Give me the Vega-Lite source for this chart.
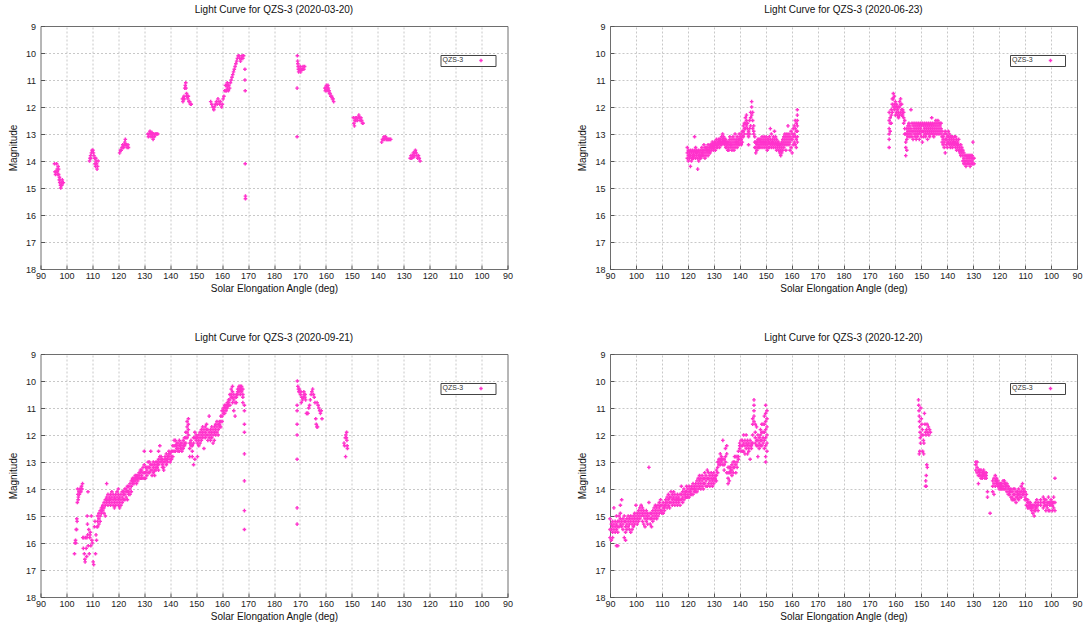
{
"$schema":"https://vega.github.io/schema/vega-lite/v6.json",
"background":"white",
"autosize":{"type":"none"},
"padding":{"left":40.5,"top":26,"right":1044.5,"bottom":601},
"bounds":"flush",
"columns":2,
"spacing":{"row":85,"column":102.5},
"config":{
 "font":"Liberation Sans",
 "view":{"stroke":"#6e6e6e","strokeWidth":1},
 "axis":{"grid":true,"gridColor":"#c8c8c8","gridDash":[2,2],"gridWidth":1,"domain":false,"ticks":true,"tickSize":-4,"tickColor":"#555","labelFlush":false,"labelFontSize":9,"labelColor":"#222","titleFontSize":10,"titleFontWeight":"normal","titleColor":"#111","labelFont":"Liberation Sans","titleFont":"Liberation Sans"},
 "axisX":{"labelPadding":6.5,"titlePadding":3,"gridOpacity":{"condition":{"test":"datum.value === 90 || datum.value === 270","value":0},"value":1}},
 "axisY":{"labelPadding":9,"titlePadding":7,"gridOpacity":{"condition":{"test":"datum.value === 9 || datum.value === 18","value":0},"value":1}},
 "title":{"fontSize":10,"fontWeight":"normal","font":"Liberation Sans","color":"#111","offset":7},
 "legend":{"orient":"none","legendX":400,"legendY":29,"titleOrient":"left","titleAnchor":"middle","titleFontSize":7,"titleFontWeight":"normal","titleColor":"#333","labelFontSize":7,"labelOffset":9,"symbolType":"cross","symbolSize":12,"symbolStrokeWidth":0,"strokeColor":"#444","fillColor":"white","padding":2,"titlePadding":14,"cornerRadius":0}
},
"datasets":{
"mar":[
{"x":95.4,"m":14.1},{"x":95.6,"m":14.4},{"x":95.8,"m":14.5},{"x":96.0,"m":14.4},{"x":96.2,"m":14.1},{"x":96.4,"m":14.3},{"x":96.5,"m":14.4},{"x":96.7,"m":14.5},{"x":96.8,"m":14.2},{"x":97.0,"m":14.3},{"x":97.0,"m":14.5},{"x":97.2,"m":14.7},{"x":97.4,"m":14.8},{"x":97.5,"m":14.7},{"x":97.7,"m":14.9},{"x":97.8,"m":15.0},{"x":98.0,"m":14.8},{"x":98.2,"m":14.9},{"x":98.4,"m":14.7},{"x":98.6,"m":14.8},{"x":98.8,"m":14.8},{"x":97.3,"m":14.6},
{"x":108.9,"m":14.0},{"x":109.1,"m":13.9},{"x":109.3,"m":13.8},{"x":109.6,"m":13.7},{"x":109.9,"m":13.6},{"x":110.2,"m":13.6},{"x":110.4,"m":13.7},{"x":110.6,"m":13.8},{"x":110.9,"m":13.9},{"x":111.0,"m":14.1},{"x":111.2,"m":14.2},{"x":111.4,"m":14.0},{"x":111.6,"m":14.1},{"x":111.8,"m":14.3},{"x":112.0,"m":14.2},{"x":112.2,"m":14.0},{"x":109.4,"m":13.9},{"x":111.3,"m":13.9},
{"x":120.5,"m":13.7},{"x":120.8,"m":13.6},{"x":121.1,"m":13.6},{"x":121.4,"m":13.5},{"x":121.7,"m":13.4},{"x":122.0,"m":13.5},{"x":122.3,"m":13.4},{"x":122.5,"m":13.3},{"x":122.7,"m":13.2},{"x":122.9,"m":13.4},{"x":123.1,"m":13.4},{"x":123.4,"m":13.5},{"x":123.7,"m":13.4},{"x":123.9,"m":13.5},{"x":121.9,"m":13.5},{"x":122.6,"m":13.4},
{"x":131.4,"m":13.0},{"x":131.6,"m":13.1},{"x":131.9,"m":13.0},{"x":132.2,"m":12.9},{"x":132.4,"m":13.0},{"x":132.6,"m":13.1},{"x":132.9,"m":13.0},{"x":133.2,"m":13.1},{"x":133.4,"m":13.2},{"x":133.6,"m":13.0},{"x":133.9,"m":13.1},{"x":134.2,"m":13.0},{"x":134.5,"m":13.0},{"x":134.8,"m":13.0},{"x":135.2,"m":13.0},{"x":133.0,"m":12.95},
{"x":144.7,"m":11.7},{"x":144.9,"m":11.8},{"x":145.1,"m":11.7},{"x":145.3,"m":11.6},{"x":145.6,"m":11.3},{"x":145.8,"m":11.2},{"x":146.0,"m":11.1},{"x":146.1,"m":11.3},{"x":146.3,"m":11.5},{"x":146.6,"m":11.6},{"x":146.8,"m":11.7},{"x":147.0,"m":11.6},{"x":147.2,"m":11.8},{"x":147.5,"m":11.8},{"x":147.8,"m":11.9},{"x":148.1,"m":11.9},{"x":146.4,"m":11.6},{"x":145.5,"m":11.7},
{"x":155.6,"m":11.8},{"x":156.0,"m":11.9},{"x":156.4,"m":12.0},{"x":156.8,"m":12.1},{"x":157.1,"m":12.0},{"x":157.4,"m":11.9},{"x":157.8,"m":11.8},{"x":158.1,"m":11.9},{"x":158.4,"m":11.7},{"x":158.8,"m":11.8},{"x":159.1,"m":11.9},{"x":159.4,"m":11.8},{"x":159.8,"m":12.0},{"x":160.1,"m":11.9},{"x":160.4,"m":11.7},{"x":160.7,"m":11.6},
{"x":161.0,"m":11.4},{"x":161.3,"m":11.2},{"x":161.5,"m":11.4},{"x":161.8,"m":11.2},{"x":162.0,"m":11.3},{"x":162.3,"m":11.2},{"x":162.6,"m":11.2},{"x":162.9,"m":11.3},{"x":163.2,"m":11.1},{"x":163.5,"m":11.0},{"x":163.8,"m":10.9},{"x":164.1,"m":10.8},{"x":164.4,"m":10.7},{"x":164.7,"m":10.6},{"x":165.0,"m":10.5},{"x":165.3,"m":10.4},{"x":165.6,"m":10.3},{"x":165.9,"m":10.2},{"x":166.2,"m":10.1},{"x":166.5,"m":10.1},{"x":166.8,"m":10.2},{"x":167.1,"m":10.3},{"x":167.4,"m":10.2},{"x":167.7,"m":10.1},{"x":168.0,"m":10.2},{"x":168.3,"m":10.1},{"x":161.6,"m":11.4},{"x":162.4,"m":11.4},{"x":162.0,"m":11.1},
{"x":168.8,"m":10.6},{"x":168.8,"m":11.0},{"x":168.9,"m":11.4},{"x":168.9,"m":14.1},{"x":169.0,"m":15.3},{"x":169.0,"m":15.4},
{"x":189.0,"m":10.1},{"x":189.1,"m":10.3},{"x":189.2,"m":10.4},{"x":189.3,"m":10.5},{"x":189.4,"m":10.6},{"x":189.5,"m":10.7},{"x":189.9,"m":10.6},{"x":190.3,"m":10.7},{"x":190.6,"m":10.6},{"x":190.9,"m":10.6},{"x":191.2,"m":10.5},{"x":191.5,"m":10.6},{"x":191.8,"m":10.5},{"x":190.1,"m":10.5},{"x":188.9,"m":11.3},{"x":188.9,"m":13.1},
{"x":199.6,"m":11.3},{"x":199.8,"m":11.4},{"x":200.0,"m":11.3},{"x":200.2,"m":11.2},{"x":200.4,"m":11.4},{"x":200.6,"m":11.3},{"x":200.8,"m":11.2},{"x":201.0,"m":11.3},{"x":201.2,"m":11.4},{"x":201.4,"m":11.5},{"x":201.6,"m":11.5},{"x":201.9,"m":11.6},{"x":202.2,"m":11.6},{"x":202.5,"m":11.7},{"x":202.8,"m":11.7},{"x":203.0,"m":11.8},{"x":200.3,"m":11.3},{"x":201.1,"m":11.4},
{"x":210.6,"m":12.4},{"x":210.8,"m":12.6},{"x":211.0,"m":12.7},{"x":211.2,"m":12.5},{"x":211.5,"m":12.5},{"x":211.8,"m":12.4},{"x":212.1,"m":12.5},{"x":212.4,"m":12.4},{"x":212.7,"m":12.3},{"x":212.9,"m":12.4},{"x":213.2,"m":12.5},{"x":213.5,"m":12.4},{"x":213.8,"m":12.5},{"x":214.1,"m":12.6},{"x":214.3,"m":12.6},{"x":211.3,"m":12.4},
{"x":221.5,"m":13.3},{"x":221.8,"m":13.2},{"x":222.1,"m":13.2},{"x":222.4,"m":13.1},{"x":222.7,"m":13.2},{"x":223.0,"m":13.1},{"x":223.3,"m":13.2},{"x":223.6,"m":13.2},{"x":223.9,"m":13.2},{"x":224.2,"m":13.2},{"x":224.6,"m":13.2},{"x":225.0,"m":13.2},{"x":222.9,"m":13.15},
{"x":232.5,"m":13.9},{"x":232.8,"m":13.8},{"x":233.1,"m":13.9},{"x":233.4,"m":13.8},{"x":233.7,"m":13.7},{"x":234.0,"m":13.8},{"x":234.3,"m":13.7},{"x":234.5,"m":13.6},{"x":234.8,"m":13.7},{"x":235.1,"m":13.8},{"x":235.4,"m":13.9},{"x":235.7,"m":13.8},{"x":236.0,"m":13.9},{"x":236.3,"m":14.0},{"x":233.9,"m":13.85}
],
"jun":[
{"x":119.8,"m":13.5},{"x":119.8,"m":13.7},{"x":119.8,"m":13.9},{"x":120.2,"m":13.6},{"x":120.2,"m":13.8},{"x":120.2,"m":14.0},{"x":120.6,"m":13.7},{"x":120.6,"m":13.9},{"x":120.6,"m":13.8},{"x":121.0,"m":13.8},{"x":121.0,"m":14.2},{"x":121.0,"m":13.6},{"x":121.4,"m":13.7},{"x":121.4,"m":14.0},{"x":121.4,"m":13.9},{"x":121.8,"m":13.8},{"x":121.8,"m":13.6},{"x":121.8,"m":13.9},{"x":122.2,"m":13.7},{"x":122.2,"m":13.9},{"x":122.2,"m":13.8},{"x":122.6,"m":13.6},{"x":122.6,"m":13.8},{"x":122.6,"m":13.1},{"x":123.0,"m":13.5},{"x":123.0,"m":13.7},{"x":123.0,"m":13.9},{"x":123.4,"m":13.6},{"x":123.4,"m":13.8},{"x":123.4,"m":13.7},{"x":123.8,"m":13.7},{"x":123.8,"m":13.9},{"x":123.8,"m":14.3},{"x":124.2,"m":13.8},{"x":124.2,"m":14.0},{"x":124.2,"m":13.6},{"x":124.6,"m":13.7},{"x":124.6,"m":13.9},{"x":124.6,"m":13.8},{"x":125.0,"m":13.8},{"x":125.0,"m":13.6},{"x":125.0,"m":13.9},{"x":125.4,"m":13.7},{"x":125.4,"m":13.8},{"x":125.4,"m":13.5},{"x":125.8,"m":13.6},{"x":125.8,"m":13.8},{"x":125.8,"m":13.7},{"x":126.2,"m":13.4},{"x":126.2,"m":13.6},{"x":126.2,"m":13.8},{"x":126.6,"m":13.5},{"x":126.6,"m":13.7},{"x":126.6,"m":13.9},{"x":127.0,"m":13.6},{"x":127.0,"m":13.8},{"x":127.0,"m":13.5},{"x":127.4,"m":13.5},{"x":127.4,"m":13.7},{"x":127.4,"m":13.6},{"x":127.8,"m":13.4},{"x":127.8,"m":13.6},{"x":127.8,"m":13.8},{"x":128.2,"m":13.5},{"x":128.2,"m":13.7},{"x":128.2,"m":13.6},{"x":128.6,"m":13.4},{"x":128.6,"m":13.5},{"x":128.6,"m":13.7},{"x":129.0,"m":13.4},{"x":129.0,"m":13.6},{"x":129.0,"m":13.5},{"x":129.4,"m":13.3},{"x":129.4,"m":13.5},{"x":129.4,"m":13.4},{"x":129.8,"m":13.4},{"x":129.8,"m":13.6},{"x":129.8,"m":13.5},{"x":130.2,"m":13.3},{"x":130.2,"m":13.5},{"x":130.2,"m":13.4},{"x":130.6,"m":13.3},{"x":130.6,"m":13.4},{"x":130.6,"m":13.6},{"x":131.0,"m":13.4},{"x":131.0,"m":13.2},{"x":131.0,"m":13.5},{"x":131.4,"m":13.3},{"x":131.4,"m":13.4},{"x":131.4,"m":13.5},{"x":131.8,"m":13.2},{"x":131.8,"m":13.4},{"x":131.8,"m":13.3},{"x":132.2,"m":13.3},{"x":132.2,"m":13.5},{"x":132.2,"m":13.2},{"x":132.6,"m":13.2},{"x":132.6,"m":13.4},{"x":132.6,"m":13.3},{"x":133.0,"m":13.1},{"x":133.0,"m":13.3},{"x":133.0,"m":13.4},{"x":133.4,"m":13.2},{"x":133.4,"m":13.0},{"x":133.4,"m":13.3},{"x":133.8,"m":13.1},{"x":133.8,"m":13.3},{"x":133.8,"m":13.2},{"x":134.2,"m":13.2},{"x":134.2,"m":13.4},{"x":134.2,"m":13.3},{"x":134.6,"m":13.3},{"x":134.6,"m":13.5},{"x":134.6,"m":13.2},{"x":135.0,"m":13.3},{"x":135.0,"m":13.5},{"x":135.0,"m":13.4},{"x":135.4,"m":13.4},{"x":135.4,"m":13.6},{"x":135.4,"m":13.3},{"x":135.8,"m":13.3},{"x":135.8,"m":13.5},{"x":135.8,"m":13.6},{"x":136.2,"m":13.2},{"x":136.2,"m":13.4},{"x":136.2,"m":13.1},{"x":136.6,"m":13.3},{"x":136.6,"m":13.5},{"x":136.6,"m":13.4},{"x":137.0,"m":13.4},{"x":137.0,"m":13.6},{"x":137.0,"m":13.2},{"x":137.4,"m":13.3},{"x":137.4,"m":13.5},{"x":137.4,"m":13.1},{"x":137.8,"m":13.2},{"x":137.8,"m":13.4},{"x":137.8,"m":13.6},{"x":138.2,"m":13.3},{"x":138.2,"m":13.5},{"x":138.2,"m":13.0},{"x":138.6,"m":13.2},{"x":138.6,"m":13.4},{"x":138.6,"m":13.3},{"x":139.0,"m":13.1},{"x":139.0,"m":13.3},{"x":139.0,"m":13.5},{"x":139.4,"m":13.2},{"x":139.4,"m":13.4},{"x":139.4,"m":13.3},{"x":139.8,"m":13.0},{"x":139.8,"m":13.2},{"x":139.8,"m":13.4},{"x":140.2,"m":13.1},{"x":140.2,"m":13.3},{"x":140.2,"m":13.2},{"x":140.6,"m":13.2},{"x":140.6,"m":13.4},{"x":140.6,"m":13.0},{"x":141.0,"m":13.1},{"x":141.0,"m":13.3},{"x":141.0,"m":12.9},{"x":141.4,"m":12.9},{"x":141.4,"m":13.1},{"x":141.4,"m":12.7},{"x":141.8,"m":12.6},{"x":141.8,"m":12.8},{"x":141.8,"m":13.0},{"x":142.2,"m":12.4},{"x":142.2,"m":12.6},{"x":142.2,"m":12.8},{"x":142.6,"m":12.3},{"x":142.6,"m":12.5},{"x":142.6,"m":12.7},{"x":143.0,"m":12.6},{"x":143.0,"m":12.8},{"x":143.0,"m":13.0},{"x":143.4,"m":12.9},{"x":143.4,"m":13.1},{"x":143.4,"m":13.4},{"x":143.8,"m":12.5},{"x":143.8,"m":12.8},{"x":143.8,"m":13.0},{"x":144.2,"m":12.2},{"x":144.2,"m":12.4},{"x":144.2,"m":12.7},{"x":144.6,"m":11.8},{"x":144.6,"m":12.0},{"x":144.6,"m":12.3},{"x":145.0,"m":12.2},{"x":145.0,"m":12.5},{"x":145.0,"m":12.8},{"x":145.4,"m":12.7},{"x":145.4,"m":13.0},{"x":145.4,"m":12.9},{"x":145.8,"m":13.1},{"x":145.8,"m":13.3},{"x":145.8,"m":13.5},{"x":146.2,"m":13.3},{"x":146.2,"m":13.5},{"x":146.2,"m":13.7},{"x":146.6,"m":13.4},{"x":146.6,"m":13.6},{"x":146.6,"m":13.3},{"x":147.0,"m":13.3},{"x":147.0,"m":13.5},{"x":147.0,"m":13.2},{"x":147.4,"m":13.2},{"x":147.4,"m":13.4},{"x":147.4,"m":13.5},{"x":147.8,"m":13.3},{"x":147.8,"m":13.5},{"x":147.8,"m":13.2},{"x":148.2,"m":13.2},{"x":148.2,"m":13.4},{"x":148.2,"m":13.3},{"x":148.6,"m":13.3},{"x":148.6,"m":13.5},{"x":148.6,"m":13.1},{"x":149.0,"m":13.2},{"x":149.0,"m":13.4},{"x":149.0,"m":13.3},{"x":149.4,"m":13.1},{"x":149.4,"m":13.3},{"x":149.4,"m":13.5},{"x":149.8,"m":13.2},{"x":149.8,"m":13.4},{"x":149.8,"m":13.3},{"x":150.2,"m":13.3},{"x":150.2,"m":13.5},{"x":150.2,"m":13.1},{"x":150.6,"m":13.2},{"x":150.6,"m":13.4},{"x":150.6,"m":13.6},{"x":151.0,"m":13.3},{"x":151.0,"m":13.5},{"x":151.0,"m":13.2},{"x":151.4,"m":13.1},{"x":151.4,"m":13.3},{"x":151.4,"m":13.5},{"x":151.8,"m":12.8},{"x":151.8,"m":13.2},{"x":151.8,"m":13.4},{"x":152.2,"m":13.0},{"x":152.2,"m":13.3},{"x":152.2,"m":13.5},{"x":152.6,"m":13.2},{"x":152.6,"m":13.4},{"x":152.6,"m":13.3},{"x":153.0,"m":13.1},{"x":153.0,"m":13.3},{"x":153.0,"m":13.5},{"x":153.4,"m":12.9},{"x":153.4,"m":13.2},{"x":153.4,"m":13.4},{"x":153.8,"m":13.1},{"x":153.8,"m":13.3},{"x":153.8,"m":13.5},{"x":154.2,"m":13.2},{"x":154.2,"m":13.4},{"x":154.2,"m":13.6},{"x":154.6,"m":13.3},{"x":154.6,"m":13.5},{"x":154.6,"m":13.4},{"x":155.0,"m":13.4},{"x":155.0,"m":13.6},{"x":155.0,"m":13.3},{"x":155.4,"m":13.5},{"x":155.4,"m":13.7},{"x":155.4,"m":13.4},{"x":155.8,"m":13.4},{"x":155.8,"m":13.6},{"x":155.8,"m":13.8},{"x":156.2,"m":13.3},{"x":156.2,"m":13.5},{"x":156.2,"m":13.7},{"x":156.6,"m":13.2},{"x":156.6,"m":13.4},{"x":156.6,"m":13.6},{"x":157.0,"m":13.1},{"x":157.0,"m":13.3},{"x":157.0,"m":13.5},{"x":157.4,"m":13.0},{"x":157.4,"m":13.2},{"x":157.4,"m":13.4},{"x":157.8,"m":13.1},{"x":157.8,"m":13.3},{"x":157.8,"m":13.6},{"x":158.2,"m":13.2},{"x":158.2,"m":13.4},{"x":158.2,"m":13.0},{"x":158.6,"m":13.1},{"x":158.6,"m":13.3},{"x":158.6,"m":12.7},{"x":159.0,"m":13.0},{"x":159.0,"m":13.2},{"x":159.0,"m":13.4},{"x":159.4,"m":13.1},{"x":159.4,"m":13.3},{"x":159.4,"m":13.6},{"x":159.8,"m":12.9},{"x":159.8,"m":13.2},{"x":159.8,"m":13.5},{"x":160.2,"m":13.0},{"x":160.2,"m":13.2},{"x":160.2,"m":13.7},{"x":160.6,"m":12.8},{"x":160.6,"m":13.1},{"x":160.6,"m":13.4},{"x":161.0,"m":12.7},{"x":161.0,"m":13.0},{"x":161.0,"m":13.3},{"x":161.4,"m":12.5},{"x":161.4,"m":12.8},{"x":161.4,"m":13.1},{"x":161.4,"m":13.4},{"x":161.8,"m":12.6},{"x":161.8,"m":12.9},{"x":161.8,"m":13.2},{"x":161.8,"m":13.5},{"x":162.2,"m":12.1},{"x":162.2,"m":12.3},{"x":162.2,"m":12.5},{"x":162.2,"m":12.7},{"x":162.2,"m":12.9},{"x":162.2,"m":13.1},{"x":162.2,"m":13.3},
{"x":197.6,"m":12.2},{"x":197.6,"m":12.5},{"x":197.6,"m":12.8},{"x":197.6,"m":13.0},{"x":197.6,"m":13.2},{"x":197.6,"m":13.5},{"x":198.0,"m":12.4},{"x":198.0,"m":12.6},{"x":198.0,"m":12.9},{"x":198.4,"m":12.1},{"x":198.4,"m":12.3},{"x":198.4,"m":12.6},{"x":198.8,"m":11.7},{"x":198.8,"m":11.9},{"x":198.8,"m":12.2},{"x":199.2,"m":11.5},{"x":199.2,"m":11.7},{"x":199.2,"m":12.0},{"x":199.6,"m":11.6},{"x":199.6,"m":11.9},{"x":199.6,"m":12.1},{"x":200.0,"m":11.8},{"x":200.0,"m":12.0},{"x":200.0,"m":12.3},{"x":200.4,"m":12.0},{"x":200.4,"m":12.2},{"x":200.4,"m":11.9},{"x":200.8,"m":12.1},{"x":200.8,"m":12.3},{"x":200.8,"m":12.0},{"x":201.2,"m":12.0},{"x":201.2,"m":12.2},{"x":201.2,"m":12.4},{"x":201.6,"m":11.8},{"x":201.6,"m":12.0},{"x":201.6,"m":12.3},{"x":202.0,"m":11.7},{"x":202.0,"m":11.9},{"x":202.0,"m":12.2},{"x":202.4,"m":11.9},{"x":202.4,"m":12.1},{"x":202.4,"m":12.3},{"x":202.8,"m":12.1},{"x":202.8,"m":12.3},{"x":202.8,"m":12.2},{"x":203.2,"m":12.2},{"x":203.2,"m":12.4},{"x":203.2,"m":12.6},{"x":203.6,"m":12.5},{"x":203.6,"m":12.8},{"x":203.6,"m":13.0},{"x":204.0,"m":13.0},{"x":204.0,"m":13.3},{"x":204.0,"m":13.5},{"x":204.0,"m":13.8},{"x":204.4,"m":12.8},{"x":204.4,"m":13.0},{"x":204.4,"m":13.2},{"x":204.4,"m":13.6},{"x":204.8,"m":12.7},{"x":204.8,"m":12.9},{"x":204.8,"m":13.1},{"x":205.2,"m":12.6},{"x":205.2,"m":12.8},{"x":205.2,"m":13.0},{"x":205.6,"m":12.7},{"x":205.6,"m":12.9},{"x":205.6,"m":13.1},{"x":206.0,"m":12.1},{"x":206.0,"m":12.8},{"x":206.0,"m":13.0},{"x":206.4,"m":12.6},{"x":206.4,"m":12.9},{"x":206.4,"m":13.1},{"x":206.8,"m":12.7},{"x":206.8,"m":12.9},{"x":206.8,"m":13.2},{"x":207.2,"m":12.6},{"x":207.2,"m":12.8},{"x":207.2,"m":13.0},{"x":207.6,"m":12.7},{"x":207.6,"m":12.9},{"x":207.6,"m":13.1},{"x":208.0,"m":12.6},{"x":208.0,"m":12.8},{"x":208.0,"m":13.0},{"x":208.0,"m":13.2},{"x":208.4,"m":12.7},{"x":208.4,"m":12.9},{"x":208.4,"m":13.1},{"x":208.8,"m":12.6},{"x":208.8,"m":12.8},{"x":208.8,"m":13.0},{"x":209.2,"m":12.7},{"x":209.2,"m":12.9},{"x":209.2,"m":13.2},{"x":209.6,"m":12.6},{"x":209.6,"m":12.8},{"x":209.6,"m":13.0},{"x":210.0,"m":12.7},{"x":210.0,"m":12.9},{"x":210.0,"m":13.1},{"x":210.4,"m":12.6},{"x":210.4,"m":12.9},{"x":210.4,"m":13.3},{"x":210.8,"m":12.7},{"x":210.8,"m":12.9},{"x":210.8,"m":13.1},{"x":211.2,"m":12.6},{"x":211.2,"m":12.8},{"x":211.2,"m":13.0},{"x":211.6,"m":12.7},{"x":211.6,"m":12.9},{"x":211.6,"m":13.1},{"x":212.0,"m":12.6},{"x":212.0,"m":12.8},{"x":212.0,"m":13.0},{"x":212.4,"m":12.7},{"x":212.4,"m":12.9},{"x":212.4,"m":13.2},{"x":212.8,"m":12.6},{"x":212.8,"m":12.8},{"x":212.8,"m":13.0},{"x":213.2,"m":12.7},{"x":213.2,"m":12.9},{"x":213.2,"m":13.1},{"x":213.6,"m":12.6},{"x":213.6,"m":12.8},{"x":213.6,"m":13.0},{"x":214.0,"m":12.4},{"x":214.0,"m":12.7},{"x":214.0,"m":12.9},{"x":214.4,"m":12.6},{"x":214.4,"m":12.8},{"x":214.4,"m":13.0},{"x":214.8,"m":12.7},{"x":214.8,"m":12.9},{"x":214.8,"m":13.1},{"x":215.2,"m":12.6},{"x":215.2,"m":12.8},{"x":215.2,"m":13.0},{"x":215.6,"m":12.5},{"x":215.6,"m":12.7},{"x":215.6,"m":12.9},{"x":216.0,"m":12.6},{"x":216.0,"m":12.8},{"x":216.0,"m":13.0},{"x":216.4,"m":12.5},{"x":216.4,"m":12.7},{"x":216.4,"m":12.9},{"x":216.8,"m":12.6},{"x":216.8,"m":12.8},{"x":216.8,"m":13.0},{"x":217.2,"m":12.7},{"x":217.2,"m":12.9},{"x":217.2,"m":12.6},{"x":217.6,"m":12.8},{"x":217.6,"m":13.0},{"x":217.6,"m":12.6},{"x":218.0,"m":12.9},{"x":218.0,"m":13.1},{"x":218.0,"m":13.3},{"x":218.4,"m":13.1},{"x":218.4,"m":13.2},{"x":218.4,"m":13.4},{"x":218.8,"m":13.0},{"x":218.8,"m":13.3},{"x":218.8,"m":13.5},{"x":219.2,"m":12.9},{"x":219.2,"m":13.2},{"x":219.2,"m":13.7},{"x":219.6,"m":13.0},{"x":219.6,"m":13.2},{"x":219.6,"m":13.4},{"x":220.0,"m":13.1},{"x":220.0,"m":13.3},{"x":220.0,"m":13.5},{"x":220.4,"m":12.9},{"x":220.4,"m":13.1},{"x":220.4,"m":13.3},{"x":220.8,"m":13.0},{"x":220.8,"m":13.2},{"x":220.8,"m":13.4},{"x":221.2,"m":13.1},{"x":221.2,"m":13.3},{"x":221.2,"m":13.5},{"x":221.6,"m":13.2},{"x":221.6,"m":13.4},{"x":221.6,"m":13.1},{"x":222.0,"m":13.1},{"x":222.0,"m":13.3},{"x":222.0,"m":13.5},{"x":222.4,"m":13.2},{"x":222.4,"m":13.4},{"x":222.4,"m":13.3},{"x":222.8,"m":13.1},{"x":222.8,"m":13.3},{"x":222.8,"m":13.4},{"x":223.2,"m":13.3},{"x":223.2,"m":13.5},{"x":223.2,"m":13.1},{"x":223.6,"m":13.2},{"x":223.6,"m":13.4},{"x":223.6,"m":13.6},{"x":224.0,"m":13.3},{"x":224.0,"m":13.5},{"x":224.0,"m":13.4},{"x":224.4,"m":13.4},{"x":224.4,"m":13.6},{"x":224.4,"m":13.2},{"x":224.8,"m":13.5},{"x":224.8,"m":13.7},{"x":224.8,"m":13.6},{"x":225.2,"m":13.4},{"x":225.2,"m":13.6},{"x":225.2,"m":13.8},{"x":225.6,"m":13.5},{"x":225.6,"m":13.7},{"x":225.6,"m":13.6},{"x":226.0,"m":13.6},{"x":226.0,"m":13.8},{"x":226.0,"m":14.0},{"x":226.4,"m":13.7},{"x":226.4,"m":13.9},{"x":226.4,"m":14.1},{"x":226.8,"m":13.8},{"x":226.8,"m":14.0},{"x":226.8,"m":14.1},{"x":227.2,"m":13.8},{"x":227.2,"m":14.0},{"x":227.2,"m":14.2},{"x":227.6,"m":13.9},{"x":227.6,"m":14.1},{"x":227.6,"m":13.8},{"x":228.0,"m":13.8},{"x":228.0,"m":14.0},{"x":228.0,"m":14.1},{"x":228.4,"m":13.9},{"x":228.4,"m":14.1},{"x":228.4,"m":13.8},{"x":228.8,"m":13.8},{"x":228.8,"m":14.0},{"x":228.8,"m":14.2},{"x":229.2,"m":13.9},{"x":229.2,"m":14.1},{"x":229.2,"m":13.8},{"x":229.6,"m":13.8},{"x":229.6,"m":14.0},{"x":229.6,"m":14.1},{"x":229.9,"m":13.3},{"x":229.9,"m":13.9},{"x":229.9,"m":14.1},{"x":230.3,"m":13.9},{"x":230.3,"m":14.1}
],
"sep":[
{"x":103.1,"m":16.4},{"x":103.3,"m":16.0},{"x":103.5,"m":15.9},{"x":103.6,"m":16.0},{"x":103.8,"m":15.5},{"x":104.0,"m":15.1},{"x":104.1,"m":15.2},{"x":103.9,"m":15.5},{"x":104.2,"m":14.5},{"x":104.4,"m":14.2},{"x":104.6,"m":14.3},{"x":104.8,"m":14.1},{"x":105.0,"m":14.2},{"x":105.2,"m":14.0},{"x":105.4,"m":14.1},{"x":105.6,"m":14.0},{"x":105.8,"m":13.9},{"x":106.0,"m":14.0},{"x":106.2,"m":13.8},{"x":104.5,"m":14.4},{"x":105.5,"m":14.1},{"x":104.3,"m":14.0},
{"x":106.3,"m":15.8},{"x":106.5,"m":16.2},{"x":106.7,"m":15.8},{"x":106.9,"m":16.4},{"x":107.1,"m":16.6},{"x":107.2,"m":16.7},{"x":107.4,"m":15.8},{"x":107.6,"m":16.2},{"x":107.8,"m":16.5},{"x":108.0,"m":15.0},{"x":108.1,"m":15.3},{"x":108.2,"m":15.7},{"x":108.3,"m":14.1},{"x":108.4,"m":16.1},{"x":108.6,"m":15.5},{"x":108.8,"m":16.4},{"x":109.0,"m":15.8},{"x":109.2,"m":15.6},{"x":109.4,"m":16.1},{"x":109.6,"m":15.0},{"x":109.8,"m":15.9},{"x":110.0,"m":16.0},{"x":110.3,"m":16.7},{"x":110.5,"m":16.8},{"x":110.8,"m":15.4},{"x":111.0,"m":15.2},{"x":111.2,"m":16.4},{"x":111.4,"m":15.7},{"x":111.6,"m":15.9},{"x":111.8,"m":15.4},{"x":107.9,"m":15.8},{"x":109.1,"m":15.7},
{"x":112.0,"m":15.4},{"x":112.0,"m":15.2},{"x":112.0,"m":15.0},{"x":112.5,"m":15.3},{"x":112.5,"m":15.1},{"x":112.5,"m":14.9},{"x":113.0,"m":15.0},{"x":113.0,"m":14.8},{"x":113.0,"m":15.2},{"x":113.5,"m":14.9},{"x":113.5,"m":14.7},{"x":113.5,"m":14.8},{"x":114.0,"m":14.8},{"x":114.0,"m":14.6},{"x":114.0,"m":14.7},{"x":114.5,"m":14.7},{"x":114.5,"m":14.5},{"x":114.5,"m":14.9},{"x":115.0,"m":14.6},{"x":115.0,"m":14.4},{"x":115.0,"m":15.0},{"x":115.5,"m":14.5},{"x":115.5,"m":14.3},{"x":115.5,"m":14.4},{"x":115.5,"m":13.8},{"x":116.0,"m":14.4},{"x":116.0,"m":14.2},{"x":116.0,"m":14.6},{"x":116.5,"m":14.3},{"x":116.5,"m":14.5},{"x":116.5,"m":14.4},{"x":117.0,"m":14.2},{"x":117.0,"m":14.4},{"x":117.0,"m":14.6},{"x":117.5,"m":14.3},{"x":117.5,"m":14.5},{"x":117.5,"m":14.1},{"x":118.0,"m":14.4},{"x":118.0,"m":14.2},{"x":118.0,"m":14.6},{"x":118.5,"m":14.3},{"x":118.5,"m":14.5},{"x":118.5,"m":14.7},{"x":119.0,"m":14.2},{"x":119.0,"m":14.4},{"x":119.0,"m":14.6},{"x":119.5,"m":14.3},{"x":119.5,"m":14.5},{"x":119.5,"m":14.1},{"x":120.0,"m":14.2},{"x":120.0,"m":14.4},{"x":120.0,"m":14.6},{"x":120.0,"m":14.0},{"x":120.5,"m":14.3},{"x":120.5,"m":14.5},{"x":120.5,"m":14.7},{"x":121.0,"m":14.2},{"x":121.0,"m":14.4},{"x":121.0,"m":14.6},{"x":121.5,"m":14.3},{"x":121.5,"m":14.5},{"x":121.5,"m":14.1},{"x":122.0,"m":14.2},{"x":122.0,"m":14.4},{"x":122.0,"m":14.1},{"x":122.5,"m":14.0},{"x":122.5,"m":14.2},{"x":122.5,"m":14.4},{"x":123.0,"m":14.0},{"x":123.0,"m":14.1},{"x":123.0,"m":14.3},{"x":123.5,"m":13.9},{"x":123.5,"m":14.1},{"x":123.5,"m":14.4},{"x":124.0,"m":13.9},{"x":124.0,"m":14.1},{"x":124.0,"m":14.2},{"x":124.5,"m":13.8},{"x":124.5,"m":14.0},{"x":124.5,"m":14.2},{"x":125.0,"m":13.7},{"x":125.0,"m":13.9},{"x":125.0,"m":14.1},{"x":125.5,"m":13.6},{"x":125.5,"m":13.8},{"x":125.5,"m":13.7},{"x":126.0,"m":13.6},{"x":126.0,"m":13.8},{"x":126.0,"m":13.7},{"x":126.5,"m":13.5},{"x":126.5,"m":13.7},{"x":126.5,"m":13.6},{"x":127.0,"m":13.6},{"x":127.0,"m":13.8},{"x":127.0,"m":13.5},{"x":127.5,"m":13.5},{"x":127.5,"m":13.7},{"x":127.5,"m":13.6},{"x":128.0,"m":13.4},{"x":128.0,"m":13.6},{"x":128.0,"m":13.5},{"x":128.5,"m":13.4},{"x":128.5,"m":13.6},{"x":128.5,"m":13.3},{"x":129.0,"m":13.3},{"x":129.0,"m":13.5},{"x":129.0,"m":13.6},{"x":129.5,"m":13.2},{"x":129.5,"m":13.4},{"x":129.5,"m":13.6},{"x":130.0,"m":13.1},{"x":130.0,"m":13.4},{"x":130.0,"m":12.6},{"x":130.0,"m":13.6},{"x":130.5,"m":13.2},{"x":130.5,"m":13.4},{"x":130.5,"m":13.6},{"x":131.0,"m":13.3},{"x":131.0,"m":13.5},{"x":131.0,"m":13.2},{"x":131.5,"m":13.0},{"x":131.5,"m":13.2},{"x":131.5,"m":13.4},{"x":132.0,"m":13.0},{"x":132.0,"m":13.2},{"x":132.0,"m":13.4},{"x":132.5,"m":12.6},{"x":132.5,"m":13.1},{"x":132.5,"m":13.3},{"x":133.0,"m":13.1},{"x":133.0,"m":13.3},{"x":133.0,"m":13.5},{"x":133.5,"m":13.0},{"x":133.5,"m":13.2},{"x":133.5,"m":13.4},{"x":134.0,"m":13.1},{"x":134.0,"m":13.3},{"x":134.0,"m":13.5},{"x":134.5,"m":13.0},{"x":134.5,"m":13.2},{"x":134.5,"m":13.3},{"x":135.0,"m":13.0},{"x":135.0,"m":13.2},{"x":135.0,"m":13.1},{"x":135.5,"m":12.9},{"x":135.5,"m":13.1},{"x":135.5,"m":13.3},{"x":135.5,"m":12.6},{"x":136.0,"m":12.8},{"x":136.0,"m":13.0},{"x":136.0,"m":12.4},{"x":136.5,"m":12.8},{"x":136.5,"m":13.0},{"x":136.5,"m":12.9},{"x":137.0,"m":12.9},{"x":137.0,"m":13.1},{"x":137.0,"m":13.2},{"x":137.5,"m":13.0},{"x":137.5,"m":13.2},{"x":137.5,"m":13.3},{"x":138.0,"m":12.8},{"x":138.0,"m":13.0},{"x":138.0,"m":12.9},{"x":138.5,"m":12.7},{"x":138.5,"m":12.9},{"x":138.5,"m":13.1},{"x":139.0,"m":12.8},{"x":139.0,"m":13.0},{"x":139.0,"m":12.9},{"x":139.5,"m":12.6},{"x":139.5,"m":12.8},{"x":139.5,"m":12.7},{"x":140.0,"m":12.7},{"x":140.0,"m":12.9},{"x":140.0,"m":13.0},{"x":140.5,"m":12.6},{"x":140.5,"m":12.8},{"x":140.5,"m":12.9},{"x":141.0,"m":12.4},{"x":141.0,"m":12.6},{"x":141.0,"m":12.8},{"x":141.5,"m":12.4},{"x":141.5,"m":12.6},{"x":141.5,"m":12.2},{"x":142.0,"m":12.2},{"x":142.0,"m":12.4},{"x":142.0,"m":12.6},{"x":142.5,"m":12.3},{"x":142.5,"m":12.5},{"x":142.5,"m":12.4},{"x":143.0,"m":12.3},{"x":143.0,"m":12.5},{"x":143.0,"m":12.6},{"x":143.5,"m":12.2},{"x":143.5,"m":12.4},{"x":143.5,"m":12.6},{"x":144.0,"m":12.3},{"x":144.0,"m":12.5},{"x":144.0,"m":12.4},{"x":144.5,"m":12.3},{"x":144.5,"m":12.5},{"x":144.5,"m":12.6},{"x":145.0,"m":12.2},{"x":145.0,"m":12.4},{"x":145.0,"m":12.5},{"x":145.5,"m":12.3},{"x":145.5,"m":12.4},{"x":145.5,"m":12.1},{"x":146.0,"m":12.1},{"x":146.0,"m":12.3},{"x":146.0,"m":11.9},{"x":146.5,"m":11.5},{"x":146.5,"m":11.7},{"x":146.5,"m":11.9},{"x":146.5,"m":12.1},{"x":147.0,"m":11.4},{"x":147.0,"m":11.6},{"x":147.0,"m":11.8},{"x":147.0,"m":12.0},{"x":147.5,"m":12.3},{"x":147.5,"m":12.5},{"x":147.5,"m":12.8},{"x":148.0,"m":12.2},{"x":148.0,"m":12.4},{"x":148.0,"m":12.3},{"x":148.5,"m":12.4},{"x":148.5,"m":12.6},{"x":148.5,"m":12.8},{"x":149.0,"m":12.1},{"x":149.0,"m":12.3},{"x":149.0,"m":13.1},{"x":149.5,"m":11.9},{"x":149.5,"m":12.1},{"x":149.5,"m":12.9},{"x":150.0,"m":12.0},{"x":150.0,"m":12.2},{"x":150.0,"m":12.1},{"x":150.5,"m":12.1},{"x":150.5,"m":12.3},{"x":150.5,"m":12.8},{"x":151.0,"m":12.2},{"x":151.0,"m":12.4},{"x":151.0,"m":12.0},{"x":151.5,"m":11.9},{"x":151.5,"m":12.1},{"x":151.5,"m":12.3},{"x":152.0,"m":11.8},{"x":152.0,"m":12.0},{"x":152.0,"m":12.2},{"x":152.5,"m":11.7},{"x":152.5,"m":11.9},{"x":152.5,"m":12.1},{"x":153.0,"m":11.8},{"x":153.0,"m":12.0},{"x":153.0,"m":12.5},{"x":153.5,"m":11.7},{"x":153.5,"m":11.9},{"x":153.5,"m":12.1},{"x":154.0,"m":11.6},{"x":154.0,"m":11.8},{"x":154.0,"m":12.0},{"x":154.5,"m":11.8},{"x":154.5,"m":12.0},{"x":154.5,"m":12.2},{"x":155.0,"m":11.9},{"x":155.0,"m":12.1},{"x":155.0,"m":11.3},{"x":155.5,"m":11.8},{"x":155.5,"m":12.0},{"x":155.5,"m":12.2},{"x":156.0,"m":11.7},{"x":156.0,"m":11.9},{"x":156.0,"m":12.1},{"x":156.5,"m":11.8},{"x":156.5,"m":12.0},{"x":156.5,"m":12.3},{"x":157.0,"m":11.7},{"x":157.0,"m":11.9},{"x":157.0,"m":12.2},{"x":157.5,"m":11.6},{"x":157.5,"m":11.8},{"x":157.5,"m":12.0},{"x":158.0,"m":11.5},{"x":158.0,"m":11.7},{"x":158.0,"m":11.9},{"x":158.5,"m":11.6},{"x":158.5,"m":11.8},{"x":158.5,"m":12.0},{"x":159.0,"m":11.5},{"x":159.0,"m":11.7},{"x":159.0,"m":11.6},{"x":159.5,"m":11.3},{"x":159.5,"m":11.5},{"x":159.5,"m":11.7},{"x":160.0,"m":11.1},{"x":160.0,"m":11.3},{"x":160.0,"m":11.5},{"x":160.5,"m":11.0},{"x":160.5,"m":11.2},{"x":160.5,"m":11.1},{"x":161.0,"m":11.0},{"x":161.0,"m":11.2},{"x":161.0,"m":10.9},{"x":161.5,"m":10.9},{"x":161.5,"m":11.1},{"x":161.5,"m":11.0},{"x":162.0,"m":10.9},{"x":162.0,"m":11.0},{"x":162.0,"m":10.8},{"x":162.5,"m":10.7},{"x":162.5,"m":10.9},{"x":162.5,"m":10.8},{"x":163.0,"m":10.5},{"x":163.0,"m":10.7},{"x":163.0,"m":10.9},{"x":163.5,"m":10.3},{"x":163.5,"m":10.5},{"x":163.5,"m":10.6},{"x":164.0,"m":10.2},{"x":164.0,"m":10.4},{"x":164.0,"m":10.6},{"x":164.0,"m":10.8},{"x":164.5,"m":10.5},{"x":164.5,"m":10.7},{"x":164.5,"m":11.1},{"x":165.0,"m":10.6},{"x":165.0,"m":10.8},{"x":165.0,"m":11.3},{"x":165.5,"m":10.5},{"x":165.5,"m":10.6},{"x":165.5,"m":10.8},{"x":166.0,"m":10.3},{"x":166.0,"m":10.5},{"x":166.0,"m":10.4},{"x":166.5,"m":10.2},{"x":166.5,"m":10.4},{"x":166.5,"m":10.3},{"x":167.0,"m":10.2},{"x":167.0,"m":10.3},{"x":167.0,"m":10.5},{"x":167.5,"m":10.2},{"x":167.5,"m":10.4},{"x":167.5,"m":10.3},{"x":168.0,"m":10.3},{"x":168.0,"m":10.5},{"x":168.0,"m":10.6},{"x":168.0,"m":10.8},
{"x":168.6,"m":10.9},{"x":168.6,"m":11.1},{"x":168.6,"m":11.6},{"x":168.6,"m":11.9},{"x":168.6,"m":12.7},{"x":168.6,"m":13.7},{"x":168.6,"m":14.8},{"x":168.6,"m":15.5},
{"x":189.0,"m":10.0},{"x":189.2,"m":10.2},{"x":189.4,"m":10.3},{"x":189.6,"m":10.4},{"x":189.8,"m":10.3},{"x":190.0,"m":10.4},{"x":190.2,"m":10.5},{"x":190.4,"m":10.4},{"x":190.7,"m":10.6},{"x":191.0,"m":10.7},{"x":191.3,"m":10.6},{"x":191.6,"m":10.5},{"x":191.9,"m":10.6},{"x":192.2,"m":10.7},{"x":192.5,"m":11.2},{"x":192.8,"m":11.2},{"x":193.1,"m":11.2},{"x":193.4,"m":11.0},{"x":193.7,"m":10.9},{"x":194.0,"m":10.7},{"x":194.3,"m":10.5},{"x":194.6,"m":10.4},{"x":194.9,"m":10.3},{"x":195.2,"m":10.5},{"x":195.5,"m":10.6},{"x":195.8,"m":10.8},{"x":196.1,"m":11.4},{"x":196.3,"m":11.6},{"x":196.5,"m":11.7},{"x":196.8,"m":11.7},{"x":196.6,"m":10.8},{"x":197.0,"m":10.9},{"x":197.3,"m":11.0},{"x":197.6,"m":11.1},{"x":197.9,"m":11.2},{"x":198.2,"m":11.1},{"x":198.5,"m":11.4},{"x":190.5,"m":10.8},{"x":191.5,"m":10.4},{"x":192.0,"m":10.5},
{"x":188.9,"m":10.9},{"x":188.9,"m":11.1},{"x":188.9,"m":11.6},{"x":188.9,"m":12.0},{"x":188.9,"m":12.9},{"x":188.9,"m":14.7},{"x":188.9,"m":15.3},
{"x":207.0,"m":12.3},{"x":207.2,"m":12.4},{"x":207.5,"m":12.1},{"x":207.7,"m":12.0},{"x":207.9,"m":12.1},{"x":208.1,"m":12.2},{"x":208.3,"m":12.5},{"x":207.6,"m":12.8},{"x":208.0,"m":11.9},{"x":208.2,"m":12.4}
],
"dec":[
{"x":90.0,"m":15.1},{"x":90.0,"m":15.5},{"x":90.0,"m":15.8},{"x":90.5,"m":15.3},{"x":90.5,"m":15.5},{"x":90.5,"m":15.9},{"x":91.0,"m":15.2},{"x":91.0,"m":15.4},{"x":91.0,"m":15.6},{"x":91.0,"m":15.8},{"x":91.5,"m":14.7},{"x":91.5,"m":15.3},{"x":91.5,"m":15.5},{"x":92.0,"m":15.2},{"x":92.0,"m":15.4},{"x":92.0,"m":15.6},{"x":92.5,"m":15.0},{"x":92.5,"m":15.3},{"x":92.5,"m":15.5},{"x":92.5,"m":16.1},{"x":93.0,"m":15.2},{"x":93.0,"m":15.4},{"x":93.0,"m":15.6},{"x":93.0,"m":16.1},{"x":93.5,"m":15.0},{"x":93.5,"m":15.2},{"x":93.5,"m":15.4},{"x":94.0,"m":14.9},{"x":94.0,"m":15.1},{"x":94.0,"m":15.3},{"x":94.0,"m":14.6},{"x":94.5,"m":15.2},{"x":94.5,"m":15.4},{"x":94.5,"m":14.4},{"x":95.0,"m":15.1},{"x":95.0,"m":15.3},{"x":95.0,"m":15.5},{"x":95.5,"m":15.0},{"x":95.5,"m":15.2},{"x":95.5,"m":15.8},{"x":96.0,"m":15.2},{"x":96.0,"m":15.4},{"x":96.0,"m":15.9},{"x":96.0,"m":15.6},{"x":96.5,"m":15.1},{"x":96.5,"m":15.3},{"x":96.5,"m":15.5},{"x":97.0,"m":15.0},{"x":97.0,"m":15.2},{"x":97.0,"m":15.4},{"x":97.5,"m":15.1},{"x":97.5,"m":15.3},{"x":97.5,"m":15.5},{"x":98.0,"m":15.0},{"x":98.0,"m":15.2},{"x":98.0,"m":15.6},{"x":98.5,"m":15.1},{"x":98.5,"m":15.3},{"x":98.5,"m":15.5},{"x":99.0,"m":15.0},{"x":99.0,"m":15.2},{"x":99.0,"m":15.4},{"x":99.5,"m":14.9},{"x":99.5,"m":15.1},{"x":99.5,"m":15.3},{"x":100.0,"m":14.6},{"x":100.0,"m":15.0},{"x":100.0,"m":15.2},{"x":100.5,"m":14.9},{"x":100.5,"m":15.1},{"x":100.5,"m":15.3},{"x":101.0,"m":14.8},{"x":101.0,"m":15.0},{"x":101.0,"m":15.2},{"x":101.5,"m":14.7},{"x":101.5,"m":14.9},{"x":101.5,"m":15.1},{"x":102.0,"m":14.6},{"x":102.0,"m":14.8},{"x":102.0,"m":15.0},{"x":102.5,"m":14.7},{"x":102.5,"m":14.9},{"x":102.5,"m":15.2},{"x":103.0,"m":14.8},{"x":103.0,"m":15.0},{"x":103.0,"m":15.3},{"x":103.5,"m":14.9},{"x":103.5,"m":15.1},{"x":103.5,"m":15.4},{"x":104.0,"m":15.0},{"x":104.0,"m":15.2},{"x":104.0,"m":14.8},{"x":104.5,"m":14.9},{"x":104.5,"m":15.1},{"x":104.5,"m":15.3},{"x":105.0,"m":14.5},{"x":105.0,"m":15.0},{"x":105.0,"m":13.2},{"x":105.5,"m":14.9},{"x":105.5,"m":15.1},{"x":105.5,"m":15.3},{"x":106.0,"m":14.9},{"x":106.0,"m":15.1},{"x":106.0,"m":15.4},{"x":106.5,"m":14.8},{"x":106.5,"m":15.0},{"x":106.5,"m":15.2},{"x":107.0,"m":14.7},{"x":107.0,"m":14.9},{"x":107.0,"m":15.1},{"x":107.5,"m":14.6},{"x":107.5,"m":14.8},{"x":107.5,"m":15.0},{"x":108.0,"m":14.7},{"x":108.0,"m":14.9},{"x":108.0,"m":15.1},{"x":108.5,"m":14.6},{"x":108.5,"m":14.8},{"x":108.5,"m":15.0},{"x":109.0,"m":14.5},{"x":109.0,"m":14.7},{"x":109.0,"m":14.9},{"x":109.5,"m":14.4},{"x":109.5,"m":14.6},{"x":109.5,"m":14.8},{"x":110.0,"m":14.6},{"x":110.0,"m":14.8},{"x":110.0,"m":14.9},{"x":110.5,"m":14.5},{"x":110.5,"m":14.7},{"x":110.5,"m":14.9},{"x":111.0,"m":14.6},{"x":111.0,"m":14.8},{"x":111.0,"m":14.7},{"x":111.5,"m":14.4},{"x":111.5,"m":14.6},{"x":111.5,"m":14.5},{"x":112.0,"m":14.3},{"x":112.0,"m":14.5},{"x":112.0,"m":14.7},{"x":112.5,"m":14.2},{"x":112.5,"m":14.4},{"x":112.5,"m":14.6},{"x":113.0,"m":14.3},{"x":113.0,"m":14.5},{"x":113.0,"m":14.7},{"x":113.5,"m":14.1},{"x":113.5,"m":14.3},{"x":113.5,"m":14.5},{"x":114.0,"m":14.2},{"x":114.0,"m":14.4},{"x":114.0,"m":14.6},{"x":114.5,"m":14.1},{"x":114.5,"m":14.3},{"x":114.5,"m":14.5},{"x":115.0,"m":14.2},{"x":115.0,"m":14.4},{"x":115.0,"m":14.6},{"x":115.5,"m":14.3},{"x":115.5,"m":14.5},{"x":115.5,"m":14.4},{"x":116.0,"m":14.2},{"x":116.0,"m":14.4},{"x":116.0,"m":14.6},{"x":116.5,"m":14.3},{"x":116.5,"m":14.5},{"x":116.5,"m":14.4},{"x":117.0,"m":14.2},{"x":117.0,"m":14.4},{"x":117.0,"m":14.6},{"x":117.5,"m":13.9},{"x":117.5,"m":14.2},{"x":117.5,"m":14.4},{"x":118.0,"m":14.1},{"x":118.0,"m":14.3},{"x":118.0,"m":14.5},{"x":118.5,"m":14.0},{"x":118.5,"m":14.2},{"x":118.5,"m":14.4},{"x":119.0,"m":14.1},{"x":119.0,"m":14.3},{"x":119.0,"m":14.2},{"x":119.5,"m":13.9},{"x":119.5,"m":14.1},{"x":119.5,"m":14.3},{"x":120.0,"m":14.0},{"x":120.0,"m":14.2},{"x":120.0,"m":14.3},{"x":120.5,"m":13.9},{"x":120.5,"m":14.1},{"x":120.5,"m":14.3},{"x":121.0,"m":14.0},{"x":121.0,"m":14.2},{"x":121.0,"m":14.1},{"x":121.5,"m":13.9},{"x":121.5,"m":14.0},{"x":121.5,"m":14.2},{"x":122.0,"m":13.8},{"x":122.0,"m":14.0},{"x":122.0,"m":14.2},{"x":122.5,"m":13.9},{"x":122.5,"m":14.1},{"x":122.5,"m":14.0},{"x":123.0,"m":13.8},{"x":123.0,"m":14.0},{"x":123.0,"m":14.1},{"x":123.5,"m":13.7},{"x":123.5,"m":13.9},{"x":123.5,"m":14.1},{"x":124.0,"m":13.6},{"x":124.0,"m":13.8},{"x":124.0,"m":14.0},{"x":124.5,"m":13.5},{"x":124.5,"m":13.7},{"x":124.5,"m":13.9},{"x":125.0,"m":13.6},{"x":125.0,"m":13.8},{"x":125.0,"m":14.0},{"x":125.5,"m":13.5},{"x":125.5,"m":13.7},{"x":125.5,"m":13.9},{"x":126.0,"m":13.6},{"x":126.0,"m":13.8},{"x":126.0,"m":14.0},{"x":126.5,"m":13.4},{"x":126.5,"m":13.6},{"x":126.5,"m":13.8},{"x":127.0,"m":13.5},{"x":127.0,"m":13.7},{"x":127.0,"m":13.9},{"x":127.5,"m":13.3},{"x":127.5,"m":13.6},{"x":127.5,"m":13.9},{"x":128.0,"m":13.4},{"x":128.0,"m":13.6},{"x":128.0,"m":13.8},{"x":128.5,"m":13.5},{"x":128.5,"m":13.7},{"x":128.5,"m":13.9},{"x":129.0,"m":13.4},{"x":129.0,"m":13.6},{"x":129.0,"m":13.8},{"x":129.5,"m":13.5},{"x":129.5,"m":13.7},{"x":129.5,"m":13.9},{"x":130.0,"m":13.4},{"x":130.0,"m":13.6},{"x":130.0,"m":13.8},{"x":130.5,"m":13.5},{"x":130.5,"m":13.7},{"x":130.5,"m":13.6},{"x":131.0,"m":13.3},{"x":131.0,"m":13.5},{"x":131.0,"m":13.7},{"x":131.5,"m":13.0},{"x":131.5,"m":13.2},{"x":131.5,"m":13.4},{"x":132.0,"m":12.9},{"x":132.0,"m":13.1},{"x":132.0,"m":13.0},{"x":132.5,"m":12.7},{"x":132.5,"m":12.9},{"x":132.5,"m":13.1},{"x":133.0,"m":12.8},{"x":133.0,"m":13.0},{"x":133.0,"m":12.9},{"x":133.5,"m":12.9},{"x":133.5,"m":13.1},{"x":133.5,"m":12.2},{"x":134.0,"m":12.9},{"x":134.0,"m":13.1},{"x":134.0,"m":13.3},{"x":134.5,"m":12.5},{"x":134.5,"m":12.8},{"x":134.5,"m":13.0},{"x":135.0,"m":12.4},{"x":135.0,"m":12.7},{"x":135.0,"m":13.4},{"x":135.5,"m":13.2},{"x":135.5,"m":13.4},{"x":135.5,"m":13.6},{"x":135.5,"m":13.8},{"x":136.0,"m":13.2},{"x":136.0,"m":13.4},{"x":136.0,"m":13.7},{"x":136.5,"m":13.2},{"x":136.5,"m":13.4},{"x":136.5,"m":13.3},{"x":137.0,"m":13.1},{"x":137.0,"m":13.3},{"x":137.0,"m":13.5},{"x":137.5,"m":13.0},{"x":137.5,"m":13.2},{"x":137.5,"m":13.4},{"x":138.0,"m":12.8},{"x":138.0,"m":13.0},{"x":138.0,"m":13.2},{"x":138.5,"m":12.8},{"x":138.5,"m":13.1},{"x":138.5,"m":13.4},{"x":139.0,"m":12.8},{"x":139.0,"m":13.0},{"x":139.0,"m":13.2},{"x":139.5,"m":12.6},{"x":139.5,"m":12.8},{"x":139.5,"m":12.9},{"x":140.0,"m":12.3},{"x":140.0,"m":12.5},{"x":140.0,"m":12.4},{"x":140.5,"m":12.2},{"x":140.5,"m":12.4},{"x":140.5,"m":12.6},{"x":141.0,"m":12.2},{"x":141.0,"m":12.4},{"x":141.0,"m":12.6},{"x":141.5,"m":12.0},{"x":141.5,"m":12.3},{"x":141.5,"m":12.6},{"x":142.0,"m":12.2},{"x":142.0,"m":12.4},{"x":142.0,"m":12.7},{"x":142.5,"m":12.0},{"x":142.5,"m":12.3},{"x":142.5,"m":12.5},{"x":143.0,"m":12.2},{"x":143.0,"m":12.4},{"x":143.0,"m":12.7},{"x":143.5,"m":12.3},{"x":143.5,"m":12.5},{"x":143.5,"m":12.6},{"x":144.0,"m":12.2},{"x":144.0,"m":12.4},{"x":144.0,"m":12.9},{"x":144.5,"m":12.3},{"x":144.5,"m":12.5},{"x":144.5,"m":12.4},{"x":145.0,"m":11.4},{"x":145.0,"m":11.6},{"x":145.0,"m":12.0},{"x":145.0,"m":12.3},{"x":145.5,"m":10.7},{"x":145.5,"m":10.9},{"x":145.5,"m":11.1},{"x":145.5,"m":11.3},{"x":145.5,"m":11.5},{"x":146.0,"m":11.6},{"x":146.0,"m":11.9},{"x":146.0,"m":12.1},{"x":146.0,"m":12.3},{"x":146.5,"m":11.7},{"x":146.5,"m":12.2},{"x":146.5,"m":12.4},{"x":147.0,"m":12.0},{"x":147.0,"m":12.2},{"x":147.0,"m":12.4},{"x":147.0,"m":12.8},{"x":147.5,"m":12.1},{"x":147.5,"m":12.3},{"x":147.5,"m":12.5},{"x":148.0,"m":11.8},{"x":148.0,"m":12.0},{"x":148.0,"m":12.2},{"x":148.0,"m":12.4},{"x":148.5,"m":11.6},{"x":148.5,"m":11.9},{"x":148.5,"m":12.2},{"x":148.5,"m":12.4},{"x":149.0,"m":11.6},{"x":149.0,"m":11.9},{"x":149.0,"m":12.1},{"x":149.0,"m":12.3},{"x":149.5,"m":11.3},{"x":149.5,"m":11.6},{"x":149.5,"m":11.9},{"x":149.5,"m":12.2},{"x":149.5,"m":12.5},{"x":150.0,"m":10.9},{"x":150.0,"m":11.2},{"x":150.0,"m":11.5},{"x":150.0,"m":11.8},{"x":150.0,"m":12.1},{"x":150.0,"m":12.4},{"x":150.0,"m":12.8},{"x":150.0,"m":13.0},{"x":150.5,"m":11.1},{"x":150.5,"m":11.4},{"x":150.5,"m":11.7},{"x":150.5,"m":12.0},{"x":150.5,"m":12.3},{"x":150.5,"m":12.6},
{"x":208.9,"m":10.7},{"x":209.0,"m":10.9},{"x":209.1,"m":11.1},{"x":209.2,"m":11.3},{"x":209.3,"m":11.5},{"x":209.4,"m":11.7},{"x":209.5,"m":11.9},{"x":209.6,"m":12.1},{"x":209.7,"m":12.3},{"x":209.4,"m":12.6},{"x":209.2,"m":12.7},{"x":210.0,"m":11.4},{"x":210.2,"m":11.6},{"x":210.4,"m":11.8},{"x":210.6,"m":12.0},{"x":210.8,"m":12.2},{"x":211.0,"m":12.3},{"x":210.5,"m":12.6},{"x":210.9,"m":12.7},{"x":211.2,"m":11.2},{"x":211.4,"m":11.6},{"x":211.6,"m":11.9},{"x":211.8,"m":12.0},{"x":212.0,"m":11.8},{"x":212.2,"m":11.6},{"x":212.5,"m":11.9},{"x":212.7,"m":11.7},{"x":212.9,"m":12.0},{"x":213.2,"m":11.8},{"x":213.5,"m":11.9},{"x":212.1,"m":13.1},{"x":212.3,"m":13.2},{"x":211.9,"m":13.5},{"x":211.7,"m":13.7},{"x":211.6,"m":13.9},{"x":211.9,"m":13.9},{"x":209.8,"m":11.0},{"x":210.1,"m":12.0},
{"x":231.0,"m":13.0},{"x":231.0,"m":13.1},{"x":231.0,"m":13.3},{"x":231.5,"m":13.2},{"x":231.5,"m":13.4},{"x":231.5,"m":13.0},{"x":232.0,"m":13.3},{"x":232.0,"m":13.5},{"x":232.0,"m":13.8},{"x":232.5,"m":13.4},{"x":232.5,"m":13.5},{"x":232.5,"m":13.3},{"x":233.0,"m":13.3},{"x":233.0,"m":13.5},{"x":233.0,"m":13.6},{"x":233.5,"m":13.4},{"x":233.5,"m":13.6},{"x":233.5,"m":13.5},{"x":234.0,"m":13.3},{"x":234.0,"m":13.5},{"x":234.0,"m":13.4},{"x":234.5,"m":13.4},{"x":234.5,"m":13.6},{"x":234.5,"m":13.5},{"x":235.0,"m":13.5},{"x":235.0,"m":13.6},{"x":235.0,"m":13.4},{"x":235.5,"m":14.1},{"x":235.5,"m":14.3},{"x":236.5,"m":14.9},{"x":237.5,"m":13.7},{"x":237.5,"m":13.9},{"x":237.5,"m":14.1},{"x":238.0,"m":13.6},{"x":238.0,"m":13.8},{"x":238.0,"m":14.2},{"x":238.5,"m":13.5},{"x":238.5,"m":13.7},{"x":238.5,"m":13.9},{"x":239.0,"m":13.6},{"x":239.0,"m":13.8},{"x":239.0,"m":13.7},{"x":239.5,"m":13.7},{"x":239.5,"m":13.9},{"x":239.5,"m":13.8},{"x":240.0,"m":13.9},{"x":240.0,"m":14.0},{"x":240.0,"m":13.8},{"x":240.5,"m":13.9},{"x":240.5,"m":14.0},{"x":240.5,"m":13.8},{"x":241.0,"m":13.8},{"x":241.0,"m":14.0},{"x":241.0,"m":13.9},{"x":241.5,"m":13.7},{"x":241.5,"m":13.9},{"x":241.5,"m":14.0},{"x":242.0,"m":13.7},{"x":242.0,"m":13.8},{"x":242.0,"m":14.0},{"x":242.5,"m":13.8},{"x":242.5,"m":14.0},{"x":242.5,"m":13.9},{"x":243.0,"m":13.9},{"x":243.0,"m":14.1},{"x":243.0,"m":13.8},{"x":243.5,"m":14.0},{"x":243.5,"m":14.2},{"x":243.5,"m":13.9},{"x":244.0,"m":14.0},{"x":244.0,"m":14.2},{"x":244.0,"m":14.1},{"x":244.5,"m":14.1},{"x":244.5,"m":14.3},{"x":244.5,"m":14.0},{"x":245.0,"m":14.1},{"x":245.0,"m":14.3},{"x":245.0,"m":14.4},{"x":245.5,"m":14.2},{"x":245.5,"m":14.4},{"x":245.5,"m":14.0},{"x":246.0,"m":14.0},{"x":246.0,"m":14.2},{"x":246.0,"m":14.4},{"x":246.5,"m":14.1},{"x":246.5,"m":14.3},{"x":246.5,"m":14.5},{"x":247.0,"m":14.1},{"x":247.0,"m":14.3},{"x":247.0,"m":14.2},{"x":247.5,"m":14.0},{"x":247.5,"m":14.2},{"x":247.5,"m":14.4},{"x":248.0,"m":14.1},{"x":248.0,"m":14.3},{"x":248.0,"m":14.2},{"x":248.5,"m":13.9},{"x":248.5,"m":14.1},{"x":248.5,"m":14.3},{"x":249.0,"m":13.8},{"x":249.0,"m":14.0},{"x":249.0,"m":14.2},{"x":249.5,"m":14.0},{"x":249.5,"m":14.2},{"x":249.5,"m":14.1},{"x":250.0,"m":14.1},{"x":250.0,"m":14.3},{"x":250.0,"m":14.4},{"x":250.5,"m":14.2},{"x":250.5,"m":14.4},{"x":250.5,"m":14.6},{"x":251.0,"m":14.4},{"x":251.0,"m":14.5},{"x":251.0,"m":14.7},{"x":251.5,"m":14.5},{"x":251.5,"m":14.6},{"x":251.5,"m":14.7},{"x":252.0,"m":14.5},{"x":252.0,"m":14.7},{"x":252.0,"m":14.6},{"x":252.5,"m":14.6},{"x":252.5,"m":14.7},{"x":252.5,"m":14.8},{"x":253.0,"m":14.6},{"x":253.0,"m":14.7},{"x":253.0,"m":14.9},{"x":253.5,"m":14.6},{"x":253.5,"m":14.8},{"x":253.5,"m":15.0},{"x":254.0,"m":14.5},{"x":254.0,"m":14.7},{"x":254.0,"m":14.8},{"x":254.5,"m":14.6},{"x":254.5,"m":14.7},{"x":254.5,"m":14.4},{"x":255.0,"m":14.6},{"x":255.0,"m":14.8},{"x":255.0,"m":14.5},{"x":256.0,"m":14.6},{"x":256.0,"m":14.5},{"x":256.0,"m":14.4},{"x":257.0,"m":14.5},{"x":257.0,"m":14.7},{"x":257.0,"m":14.3},{"x":257.5,"m":14.5},{"x":257.5,"m":14.6},{"x":257.5,"m":14.4},{"x":258.0,"m":14.4},{"x":258.0,"m":14.6},{"x":258.0,"m":14.8},{"x":258.5,"m":14.5},{"x":258.5,"m":14.6},{"x":258.5,"m":14.7},{"x":259.0,"m":14.3},{"x":259.0,"m":14.5},{"x":259.0,"m":14.8},{"x":259.5,"m":14.5},{"x":259.5,"m":14.6},{"x":259.5,"m":14.8},{"x":260.0,"m":14.4},{"x":260.0,"m":14.6},{"x":260.0,"m":14.5},{"x":260.5,"m":14.5},{"x":260.5,"m":14.6},{"x":260.5,"m":14.8},{"x":261.0,"m":14.3},{"x":261.0,"m":14.5},{"x":261.0,"m":14.7},{"x":261.5,"m":13.6},{"x":261.5,"m":14.5},{"x":261.5,"m":14.8}
]
},
"concat":[
{"title":"Light Curve for QZS-3 (2020-03-20)","width":467,"height":243,"data":{"name":"mar"},
 "mark":{"type":"point","shape":"cross","filled":true,"size":13,"opacity":1},
 "encoding":{
  "x":{"field":"x","type":"quantitative","scale":{"domain":[90,270],"nice":false,"zero":false},"axis":{"values":[90,100,110,120,130,140,150,160,170,180,190,200,210,220,230,240,250,260,270],"labelExpr":"datum.value <= 180 ? datum.value : 360 - datum.value","title":"Solar Elongation Angle (deg)"}},
  "y":{"field":"m","type":"quantitative","scale":{"domain":[9,18],"reverse":true,"nice":false,"zero":false},"axis":{"values":[9,10,11,12,13,14,15,16,17,18],"title":"Magnitude"}},
  "color":{"datum":"QZS-3","type":"nominal","scale":{"range":["#ff33cc"]},"legend":{"title":"QZS-3","labelExpr":"''"}}
 }},
{"title":"Light Curve for QZS-3 (2020-06-23)","width":467,"height":243,"data":{"name":"jun"},
 "mark":{"type":"point","shape":"cross","filled":true,"size":13,"opacity":1},
 "encoding":{
  "x":{"field":"x","type":"quantitative","scale":{"domain":[90,270],"nice":false,"zero":false},"axis":{"values":[90,100,110,120,130,140,150,160,170,180,190,200,210,220,230,240,250,260,270],"labelExpr":"datum.value <= 180 ? datum.value : 360 - datum.value","title":"Solar Elongation Angle (deg)"}},
  "y":{"field":"m","type":"quantitative","scale":{"domain":[9,18],"reverse":true,"nice":false,"zero":false},"axis":{"values":[9,10,11,12,13,14,15,16,17,18],"title":"Magnitude"}},
  "color":{"datum":"QZS-3","type":"nominal","scale":{"range":["#ff33cc"]},"legend":{"title":"QZS-3","labelExpr":"''"}}
 }},
{"title":"Light Curve for QZS-3 (2020-09-21)","width":467,"height":243,"data":{"name":"sep"},
 "mark":{"type":"point","shape":"cross","filled":true,"size":13,"opacity":1},
 "encoding":{
  "x":{"field":"x","type":"quantitative","scale":{"domain":[90,270],"nice":false,"zero":false},"axis":{"values":[90,100,110,120,130,140,150,160,170,180,190,200,210,220,230,240,250,260,270],"labelExpr":"datum.value <= 180 ? datum.value : 360 - datum.value","title":"Solar Elongation Angle (deg)"}},
  "y":{"field":"m","type":"quantitative","scale":{"domain":[9,18],"reverse":true,"nice":false,"zero":false},"axis":{"values":[9,10,11,12,13,14,15,16,17,18],"title":"Magnitude"}},
  "color":{"datum":"QZS-3","type":"nominal","scale":{"range":["#ff33cc"]},"legend":{"title":"QZS-3","labelExpr":"''"}}
 }},
{"title":"Light Curve for QZS-3 (2020-12-20)","width":467,"height":243,"data":{"name":"dec"},
 "mark":{"type":"point","shape":"cross","filled":true,"size":13,"opacity":1},
 "encoding":{
  "x":{"field":"x","type":"quantitative","scale":{"domain":[90,270],"nice":false,"zero":false},"axis":{"values":[90,100,110,120,130,140,150,160,170,180,190,200,210,220,230,240,250,260,270],"labelExpr":"datum.value <= 180 ? datum.value : 360 - datum.value","title":"Solar Elongation Angle (deg)"}},
  "y":{"field":"m","type":"quantitative","scale":{"domain":[9,18],"reverse":true,"nice":false,"zero":false},"axis":{"values":[9,10,11,12,13,14,15,16,17,18],"title":"Magnitude"}},
  "color":{"datum":"QZS-3","type":"nominal","scale":{"range":["#ff33cc"]},"legend":{"title":"QZS-3","labelExpr":"''"}}
 }}
],
"resolve":{"scale":{"color":"independent"},"legend":{"color":"independent"}}
}
